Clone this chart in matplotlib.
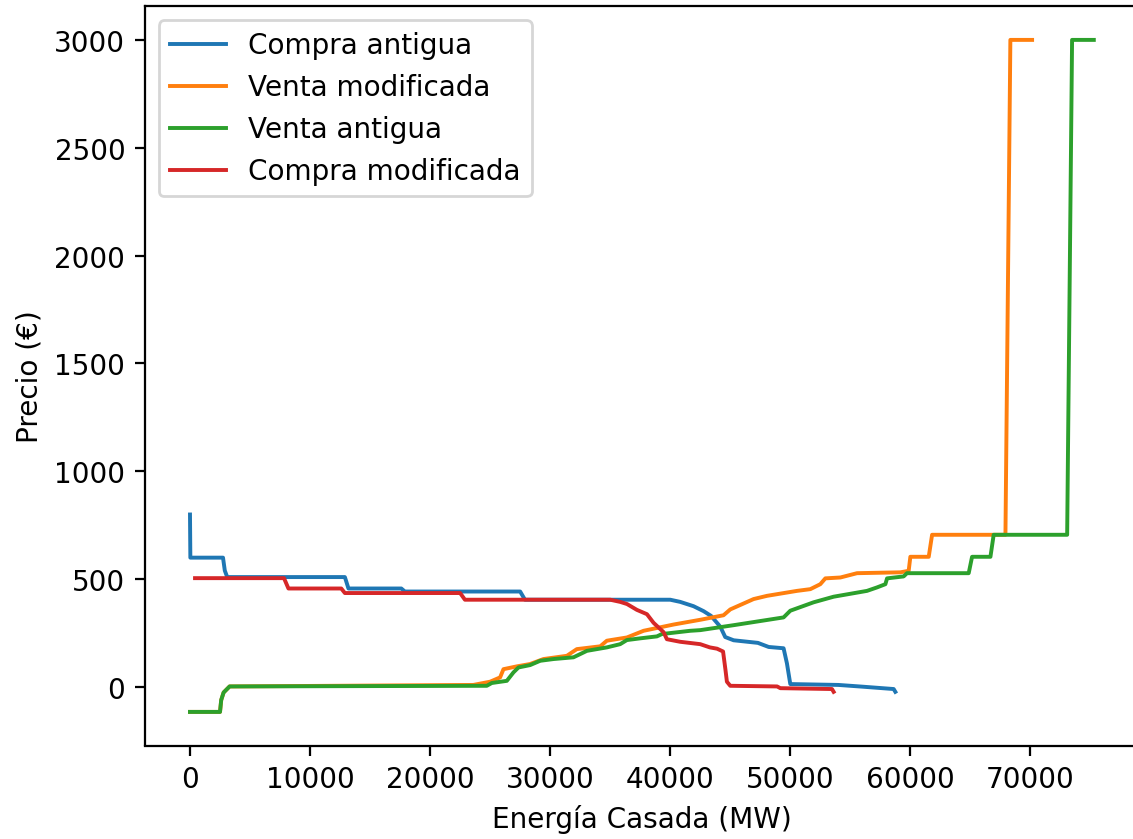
import matplotlib
matplotlib.use("Agg")
import matplotlib.pyplot as plt

# Compra antigua (old demand curve)
compra_ant_x = [0, 30, 2750, 2900, 3100, 12900, 13200, 17600, 17900, 27500, 27900,
                40000, 40830, 41940, 42780, 43400, 44170, 44580, 45280, 47300, 48200,
                49440, 49720, 50000, 54000, 56000, 58610, 58750]
compra_ant_y = [800, 600, 600, 540, 510, 510, 457, 457, 443, 443, 405,
                405, 395, 375, 352, 330, 280, 232, 217, 205, 186,
                180, 110, 14, 10, 2, -9, -22]

# Venta modificada (modified supply curve)
venta_mod_x = [0, 2500, 2600, 2800, 3300, 23600, 25000, 25830, 26110, 27220, 28330,
               29440, 31390, 32220, 34170, 34720, 36390, 37780, 40280, 42500, 43060,
               44440, 45000, 46940, 48060, 50560, 51670, 52500, 52920, 54170, 55560,
               59170, 59860, 60000, 61530, 61810, 67920, 68330, 70140]
venta_mod_y = [-115, -115, -60, -25, 3, 10, 25, 45, 83, 96, 107,
               130, 145, 176, 189, 215, 230, 261, 290, 312, 318,
               333, 360, 408, 423, 446, 454, 477, 504, 508, 528,
               532, 539, 604, 604, 706, 706, 3000, 3000]

# Venta antigua (old supply curve)
venta_ant_x = [0, 2500, 2600, 2800, 3300, 24720, 25140, 26390, 26940, 27360, 28330,
               29170, 30280, 31940, 33060, 34720, 35830, 36390, 37500, 38890, 39310,
               41670, 42500, 45280, 49440, 50000, 51940, 53610, 56390, 57220, 57920,
               58060, 59440, 59720, 64860, 65140, 66670, 66940, 73060, 73470, 75280]
venta_ant_y = [-115, -115, -60, -25, 3, 6, 19, 29, 68, 91, 102,
               122, 130, 138, 168, 184, 199, 218, 226, 235, 246,
               261, 264, 287, 323, 354, 393, 419, 446, 462, 477,
               504, 513, 528, 528, 604, 604, 706, 706, 3000, 3000]

# Compra modificada (modified demand curve)
compra_mod_x = [420, 7830, 8200, 12600, 12900, 22500, 22900, 35000, 35830, 36400,
                37220, 38060, 38610, 39440, 39720, 40830, 42500, 43300, 43900, 44400,
                44600, 44720, 45000, 48900, 49170, 53470, 53610]
compra_mod_y = [505, 505, 457, 457, 436, 436, 405, 405, 395, 385,
                358, 338, 298, 255, 222, 210, 199, 184, 178, 165,
                80, 25, 6, 3, -5, -9, -22]

labels = ["Compra antigua", "Venta modificada", "Venta antigua", "Compra modificada"]

DPI = 201
fig = plt.figure(figsize=(1133 / DPI, 840 / DPI), dpi=DPI)
W, H = 1133.0, 840.0
left_px, right_px, top_px, bot_px = 144.8, 1139.0, 7.3, 746.5
ax = fig.add_axes([left_px / W, 1 - bot_px / H, (right_px - left_px) / W, (bot_px - top_px) / H])

ax.plot(compra_ant_x, compra_ant_y, label=labels[0], lw=1.4)
ax.plot(venta_mod_x, venta_mod_y, label=labels[1], lw=1.4)
ax.plot(venta_ant_x, venta_ant_y, label=labels[2], lw=1.4)
ax.plot(compra_mod_x, compra_mod_y, label=labels[3], lw=1.4)

ax.set_xlabel("Energía Casada (MW)")
ax.set_ylabel("Precio (€)")
ax.legend(loc="upper left")

fig.savefig("out.png", dpi=DPI)
